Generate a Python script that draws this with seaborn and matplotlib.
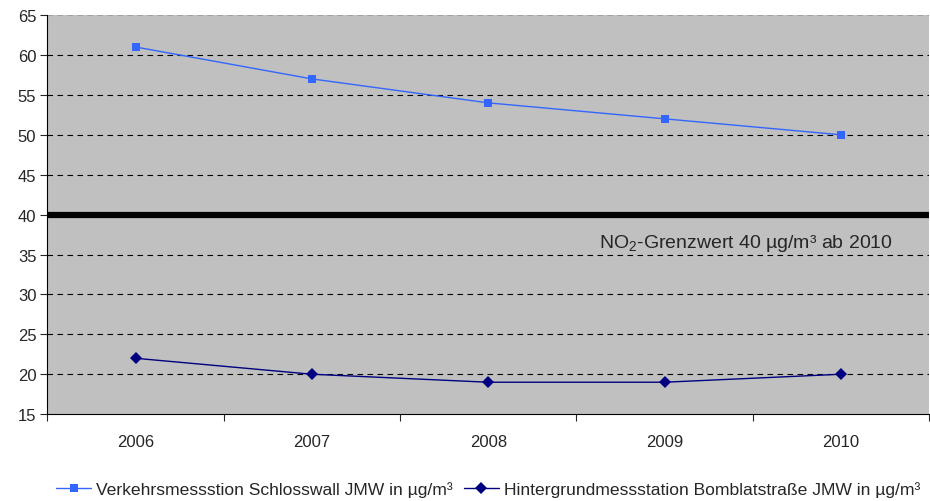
"""NO2 annual means at two measuring stations, 2006-2010."""

import matplotlib.pyplot as plt
import pandas as pd
import seaborn as sns
from matplotlib.ticker import FixedLocator, MultipleLocator

years = ["2006", "2007", "2008", "2009", "2010"]
verkehr = [61, 57, 54, 52, 50]
hintergrund = [22, 20, 19, 19, 20]
grenzwert = 40

label_verkehr = "Verkehrsmessstion Schlosswall JMW in µg/m³"
label_hinter = "Hintergrundmessstation Bomblatstraße JMW in µg/m³"

df = pd.DataFrame(
    {
        "pos": list(range(len(years))) * 2,
        "value": verkehr + hintergrund,
        "series": [label_verkehr] * len(years) + [label_hinter] * len(years),
    }
)

sns.set_style("white")
plt.rcParams["font.family"] = ["Liberation Sans", "DejaVu Sans"]
plt.rcParams["mathtext.fontset"] = "custom"
plt.rcParams["mathtext.rm"] = "Liberation Sans"
plt.rcParams["mathtext.it"] = "Liberation Sans"

fig, ax = plt.subplots(figsize=(9.3, 5.02), dpi=100)
fig.subplots_adjust(left=0.051, right=0.999, top=0.968, bottom=0.173)
ax.set_facecolor("#C0C0C0")

# dashed gridlines
for y in range(20, 65, 5):
    ax.axhline(y, color="black", lw=0.8, ls=(0, (5, 4)), zorder=1)
ax.axhline(65, color="#A0A0A0", lw=0.8, ls=(0, (5, 4)), zorder=1)

sns.lineplot(
    data=df,
    x="pos",
    y="value",
    hue="series",
    style="series",
    markers={label_verkehr: "s", label_hinter: "D"},
    dashes=False,
    palette={label_verkehr: "#3366FF", label_hinter: "#000080"},
    markersize=6,
    markeredgewidth=0,
    linewidth=1,
    ax=ax,
    zorder=3,
)

ax.axhline(grenzwert, color="black", lw=4.5, zorder=4)
ax.text(
    3.46, 36.5, r"NO$_\mathrm{2}$-Grenzwert 40 µg/m³ ab 2010",
    ha="center", va="center", fontsize=14, zorder=5,
)

ax.set_xlim(-0.5, 4.5)
ax.set_ylim(15, 65)
ax.yaxis.set_major_locator(MultipleLocator(5))
ax.set_xticks(range(len(years)))
ax.set_xticklabels(years)
ax.xaxis.set_minor_locator(FixedLocator([i - 0.5 for i in range(len(years) + 1)]))
ax.tick_params(axis="x", which="major", length=0, pad=14, labelsize=12)
ax.tick_params(axis="x", which="minor", length=5, width=0.8, direction="out", bottom=True)
ax.tick_params(axis="y", length=5, width=0.8, direction="out", left=True,
               labelsize=12, pad=3)
ax.set_xlabel("")
ax.set_ylabel("")

for side in ["top", "right"]:
    ax.spines[side].set_visible(False)
for side in ["left", "bottom"]:
    ax.spines[side].set_color("black")
    ax.spines[side].set_linewidth(0.8)

handles, labels = ax.get_legend_handles_labels()
ax.legend(
    handles, labels, loc="lower center", bbox_to_anchor=(0.5, -0.225),
    ncol=2, frameon=False, fontsize=12.6, handlelength=2.0,
    columnspacing=0.6, handletextpad=0.3, borderaxespad=0,
)

fig.savefig("out.png", dpi=100)
